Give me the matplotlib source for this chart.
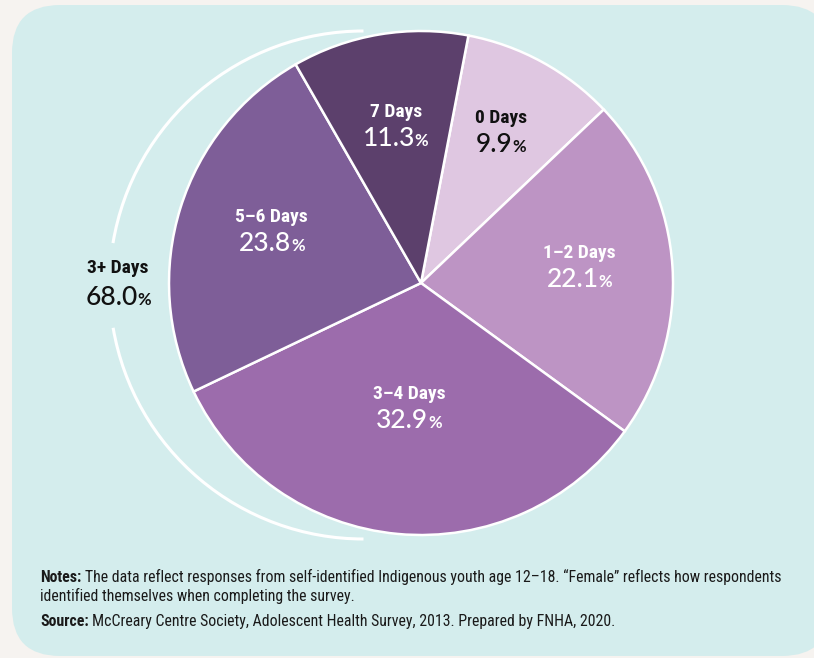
import matplotlib
matplotlib.use('Agg')
import numpy as np
import matplotlib.pyplot as plt
from matplotlib import font_manager
from matplotlib.patches import FancyBboxPatch, Arc

# ---------------- data ----------------
categories = ['0 Days', '1–2 Days', '3–4 Days', '5–6 Days', '7 Days']
values = [9.9, 22.1, 32.9, 23.8, 11.3]
pct_labels = ['9.9', '22.1', '32.9', '23.8', '11.3']
group_label = '3+ Days'
group_value = '68.0'
notes_head = 'Notes:'
notes_lines = ['The data reflect responses from self-identified Indigenous youth age 12–18. “Female” reflects how respondents',
               'identified themselves when completing the survey.']
source_head = 'Source:'
source_text = 'McCreary Centre Society, Adolescent Health Survey, 2013. Prepared by FNHA, 2020.'

# ---------------- styles ----------------
colors = ['#dfc7e1', '#bd94c4', '#9c6cac', '#7e5e98', '#5c406c']
text_colors = ['#111111', 'white', 'white', 'white', 'white']
label_r = [0.66, 0.63, 0.52, 0.62, 0.61]
BG = '#f6f3f0'
PANEL = '#d4eded'

names = {f.name for f in font_manager.fontManager.ttflist}
cond_props = None
for c in ['Roboto Condensed', 'Liberation Sans Narrow', 'Open Sans Condensed', 'DejaVu Sans Condensed']:
    if c in names:
        cond_props = dict(family=c)
        break
if cond_props is None:
    dv = [f for f in font_manager.fontManager.ttflist if f.name == 'DejaVu Sans' and 'ondensed' in str(f.stretch) + f.fname]
    if dv:
        cond_props = dict(family='DejaVu Sans', fontstretch='condensed')
    else:
        cond_props = dict(family='Roboto' if 'Roboto' in names else 'Liberation Sans')
pfont = 'Lato' if 'Lato' in names else 'DejaVu Sans'

W, H = 814, 658
fig = plt.figure(figsize=(W / 100, H / 100), dpi=100, facecolor=BG)
ax = fig.add_axes([0, 0, 1, 1])
ax.set_facecolor(BG)

panel = FancyBboxPatch((12, 2), 818, 651, boxstyle='round,pad=0,rounding_size=48',
                       facecolor=PANEL, edgecolor='none', zorder=0)
ax.add_patch(panel)

cx, cy, R = 421, 375, 252
wedges, _ = ax.pie(values, colors=colors, startangle=90 - 10.85, counterclock=False,
                   center=(cx, cy), radius=R,
                   wedgeprops=dict(edgecolor='white', linewidth=1.8, zorder=2))

ax.set_xlim(0, W)
ax.set_ylim(0, H)
ax.set_aspect('equal')
ax.axis('off')

renderer = fig.canvas.get_renderer()


def pct_text(x, y, num, color, size=19, psize=12, gap=-0.5):
    t1 = ax.text(x, y, num, ha='left', va='baseline', fontsize=size, color=color,
                 family=pfont, fontweight='medium', zorder=5)
    t2 = ax.text(x, y, '%', ha='left', va='baseline', fontsize=psize, color=color,
                 family=pfont, fontweight='bold', zorder=5)
    w1 = t1.get_window_extent(renderer).width
    w2 = t2.get_window_extent(renderer).width
    tot = w1 + gap + w2
    t1.set_x(x - tot / 2)
    t2.set_x(x - tot / 2 + w1 + gap)


for w, cat, pl, tc, rf in zip(wedges, categories, pct_labels, text_colors, label_r):
    mid = np.deg2rad((w.theta1 + w.theta2) / 2)
    x = cx + rf * R * np.cos(mid)
    y = cy + rf * R * np.sin(mid)
    ax.text(x, y + 14.5, cat, ha='center', va='baseline', fontsize=14,
            fontweight='bold', color=tc, zorder=5, **cond_props)
    pct_text(x, y - 14.5, pl, tc)

# group arc (3+ days)
acx, acy, ar = 363.5, 373, 254
ax.add_patch(Arc((acx, acy), 2 * ar, 2 * ar, theta1=90, theta2=170.5,
                 color='white', lw=2.2, zorder=3))
ax.add_patch(Arc((acx, acy), 2 * ar, 2 * ar, theta1=189.7, theta2=270,
                 color='white', lw=2.2, zorder=3))
gx, gy = 118, 369
ax.text(gx, gy + 16, group_label, ha='center', va='baseline', fontsize=14,
        fontweight='bold', color='#111111', zorder=5, **cond_props)
pct_text(gx, gy - 16, group_value, '#111111')


# notes
def notes_line(x, y, head, body, size):
    ts = []
    if head:
        t = ax.text(x, y, head, ha='left', va='baseline', fontsize=size, fontweight='bold',
                    color='#1a1a1a', **cond_props)
        wh = t.get_window_extent(renderer).width
        ts.append(t)
        x = x + wh + size * 0.3
    t = ax.text(x, y, body, ha='left', va='baseline', fontsize=size, color='#1a1a1a', **cond_props)
    ts.append(t)
    return ts


size = 11.0
ts = notes_line(40, H - 582, notes_head, notes_lines[0], size)
right = ts[-1].get_window_extent(renderer).x1
for t in ts:
    t.remove()
size = size * (782 - 40) / (right - 40)
notes_line(40, H - 582, notes_head, notes_lines[0], size)
notes_line(40, H - 601, None, notes_lines[1], size)
notes_line(40, H - 626, source_head, source_text, size)

fig.savefig('out.png', dpi=100, facecolor=BG)
